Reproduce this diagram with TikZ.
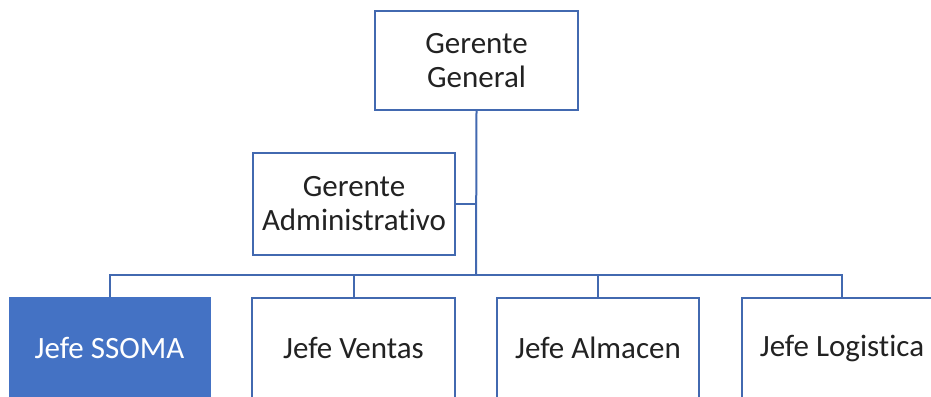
\documentclass[tikz,border=0pt]{standalone}
\usepackage{fontspec}
\setmainfont{Carlito}[Ligatures=NoCommon]
\usepackage{xcolor}
\usetikzlibrary{positioning}
\definecolor{orgline}{HTML}{4269B0}
\definecolor{orgfill}{HTML}{4472C4}
\definecolor{orgtext}{HTML}{222222}

\begin{document}
\begin{tikzpicture}[x=1pt,y=-1pt,
  orgbox/.style={draw=orgline,line width=2pt,fill=white,text=orgtext,align=center,
    inner sep=0pt,font=\fontsize{31}{34}\selectfont},
  link/.style={draw=orgline,line width=2pt}]
\clip (0,0) rectangle (931,396);
% upper levels
\node[orgbox,minimum width=203pt,minimum height=99pt] (gg) at (476.5,60.5) {Gerente\\General};
\node[orgbox,minimum width=202pt,minimum height=102pt] (ga) at (354,204) {Gerente\\Administrativo};
% jefes
\node[orgbox,minimum width=200pt,minimum height=100pt,fill=orgfill,draw=orgfill,text=white] (ssoma) at (109.5,348) {Jefe SSOMA};
\node[orgbox,minimum width=203pt,minimum height=100pt] (ventas) at (353.5,348) {Jefe Ventas};
\node[orgbox,minimum width=202pt,minimum height=100pt] (almacen) at (598,348) {Jefe Almacen};
\node[orgbox,minimum width=200pt,minimum height=100pt] (logistica) at (842,348) {Jefe Logistica};
\coordinate (bus) at (476,275);
% connectors
\draw[link] (gg.south) -- (bus);
\draw[link] (ga.east) -- (ga.east -| bus);
\foreach \j in {ssoma,ventas,almacen,logistica}{\draw[link] (\j.north) |- (bus);}
\end{tikzpicture}
\end{document}
